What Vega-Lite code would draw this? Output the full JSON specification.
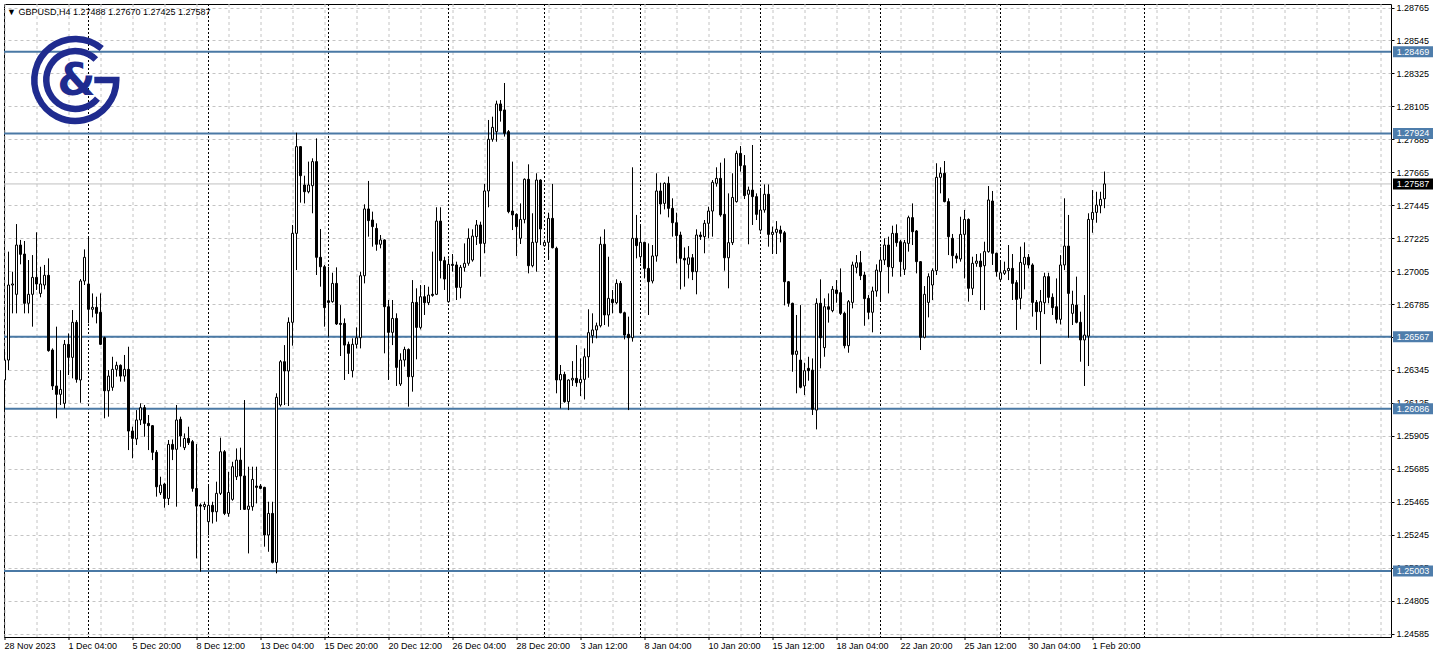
{
  "$schema": "https://vega.github.io/schema/vega-lite/v6.json",
  "width": 1387,
  "height": 633,
  "autosize": "none",
  "padding": {"left": 4, "top": 4, "right": 47, "bottom": 21},
  "background": "white",
  "title": {"text": "▼ GBPUSD,H4  1.27488 1.27670 1.27425 1.27587", "anchor": "start", "frame": "group", "offset": -13, "dx": 3, "font": "Liberation Sans", "fontSize": 9, "fontWeight": "normal", "color": "black"},
  "config": {
    "view": {"stroke": "black", "strokeWidth": 1},
    "axis": {"labelOverlap": false, "labelSeparation": 0},
    "scale": {"continuousPadding": 0}
  },
  "datasets": {
    "bars": [
      {"k":0,"o":1.26278,"h":1.26467,"l":1.26077,"c":1.26411},
      {"k":1,"o":1.26411,"h":1.27135,"l":1.26344,"c":1.26912},
      {"k":2,"o":1.26912,"h":1.27001,"l":1.26723,"c":1.26919},
      {"k":3,"o":1.26850,"h":1.27319,"l":1.26723,"c":1.27179},
      {"k":4,"o":1.27179,"h":1.27213,"l":1.27050,"c":1.27117},
      {"k":5,"o":1.27119,"h":1.27206,"l":1.26723,"c":1.26790},
      {"k":6,"o":1.26790,"h":1.27079,"l":1.26723,"c":1.26850},
      {"k":7,"o":1.26850,"h":1.27112,"l":1.26634,"c":1.26963},
      {"k":8,"o":1.26963,"h":1.27264,"l":1.26879,"c":1.26919},
      {"k":9,"o":1.26856,"h":1.27034,"l":1.26830,"c":1.26919},
      {"k":10,"o":1.26912,"h":1.27046,"l":1.26883,"c":1.26977},
      {"k":11,"o":1.26977,"h":1.27090,"l":1.26467,"c":1.26474},
      {"k":12,"o":1.26478,"h":1.26489,"l":1.26211,"c":1.26238},
      {"k":13,"o":1.26238,"h":1.26634,"l":1.26022,"c":1.26182},
      {"k":14,"o":1.26182,"h":1.26344,"l":1.26111,"c":1.26215},
      {"k":15,"o":1.26122,"h":1.26545,"l":1.26088,"c":1.26516},
      {"k":16,"o":1.26516,"h":1.26589,"l":1.26311,"c":1.26429},
      {"k":17,"o":1.26429,"h":1.26745,"l":1.26289,"c":1.26663},
      {"k":18,"o":1.26663,"h":1.26678,"l":1.26260,"c":1.26282},
      {"k":19,"o":1.26278,"h":1.26952,"l":1.26126,"c":1.26939},
      {"k":20,"o":1.26939,"h":1.27150,"l":1.26912,"c":1.27097},
      {"k":21,"o":1.26919,"h":1.27235,"l":1.26656,"c":1.26750},
      {"k":22,"o":1.26750,"h":1.26856,"l":1.26696,"c":1.26763},
      {"k":23,"o":1.26763,"h":1.26834,"l":1.26656,"c":1.26723},
      {"k":24,"o":1.26730,"h":1.26856,"l":1.26511,"c":1.26516},
      {"k":25,"o":1.26560,"h":1.26567,"l":1.26022,"c":1.26206},
      {"k":26,"o":1.26206,"h":1.26344,"l":1.26033,"c":1.26304},
      {"k":27,"o":1.26229,"h":1.26433,"l":1.26206,"c":1.26349},
      {"k":28,"o":1.26349,"h":1.26400,"l":1.26300,"c":1.26376},
      {"k":29,"o":1.26376,"h":1.26382,"l":1.26267,"c":1.26304},
      {"k":30,"o":1.26304,"h":1.26445,"l":1.26267,"c":1.26349},
      {"k":31,"o":1.26349,"h":1.26500,"l":1.25810,"c":1.25937},
      {"k":32,"o":1.25937,"h":1.25966,"l":1.25755,"c":1.25888},
      {"k":33,"o":1.25884,"h":1.26077,"l":1.25844,"c":1.26011},
      {"k":34,"o":1.26011,"h":1.26122,"l":1.25977,"c":1.26093},
      {"k":35,"o":1.26093,"h":1.26111,"l":1.25899,"c":1.25988},
      {"k":36,"o":1.25988,"h":1.26044,"l":1.25810,"c":1.25973},
      {"k":37,"o":1.25973,"h":1.25977,"l":1.25743,"c":1.25795},
      {"k":38,"o":1.25795,"h":1.25810,"l":1.25499,"c":1.25565},
      {"k":39,"o":1.25525,"h":1.25632,"l":1.25510,"c":1.25576},
      {"k":40,"o":1.25583,"h":1.25592,"l":1.25425,"c":1.25487},
      {"k":41,"o":1.25487,"h":1.25877,"l":1.25443,"c":1.25848},
      {"k":42,"o":1.25848,"h":1.25881,"l":1.25743,"c":1.25815},
      {"k":43,"o":1.25815,"h":1.26111,"l":1.25432,"c":1.26011},
      {"k":44,"o":1.26015,"h":1.26033,"l":1.25832,"c":1.25904},
      {"k":45,"o":1.25826,"h":1.25921,"l":1.25810,"c":1.25888},
      {"k":46,"o":1.25888,"h":1.25966,"l":1.25844,"c":1.25859},
      {"k":47,"o":1.25866,"h":1.25877,"l":1.25532,"c":1.25554},
      {"k":48,"o":1.25554,"h":1.25850,"l":1.25087,"c":1.25436},
      {"k":49,"o":1.25443,"h":1.25454,"l":1.24998,"c":1.25436},
      {"k":50,"o":1.25432,"h":1.25465,"l":1.25410,"c":1.25447},
      {"k":51,"o":1.25332,"h":1.25577,"l":1.25243,"c":1.25441},
      {"k":52,"o":1.25441,"h":1.25465,"l":1.25320,"c":1.25398},
      {"k":53,"o":1.25398,"h":1.25599,"l":1.25332,"c":1.25521},
      {"k":54,"o":1.25521,"h":1.25893,"l":1.25510,"c":1.25799},
      {"k":55,"o":1.25799,"h":1.25810,"l":1.25376,"c":1.25387},
      {"k":56,"o":1.25387,"h":1.25665,"l":1.25365,"c":1.25527},
      {"k":57,"o":1.25481,"h":1.25732,"l":1.25472,"c":1.25699},
      {"k":58,"o":1.25632,"h":1.25821,"l":1.25610,"c":1.25743},
      {"k":59,"o":1.25743,"h":1.25826,"l":1.25410,"c":1.25637},
      {"k":60,"o":1.25637,"h":1.26144,"l":1.25410,"c":1.25414},
      {"k":61,"o":1.25414,"h":1.25699,"l":1.25120,"c":1.25436},
      {"k":62,"o":1.25432,"h":1.25699,"l":1.25405,"c":1.25614},
      {"k":63,"o":1.25570,"h":1.25699,"l":1.25454,"c":1.25561},
      {"k":64,"o":1.25570,"h":1.25583,"l":1.25548,"c":1.25554},
      {"k":65,"o":1.25561,"h":1.25565,"l":1.25165,"c":1.25243},
      {"k":66,"o":1.25243,"h":1.25465,"l":1.25131,"c":1.25387},
      {"k":67,"o":1.25387,"h":1.25465,"l":1.25053,"c":1.25060},
      {"k":68,"o":1.25060,"h":1.26189,"l":1.24987,"c":1.26162},
      {"k":69,"o":1.26111,"h":1.26411,"l":1.26100,"c":1.26400},
      {"k":70,"o":1.26400,"h":1.26511,"l":1.26111,"c":1.26338},
      {"k":71,"o":1.26338,"h":1.26696,"l":1.26104,"c":1.26663},
      {"k":72,"o":1.26663,"h":1.27313,"l":1.26507,"c":1.27257},
      {"k":73,"o":1.27257,"h":1.27929,"l":1.27012,"c":1.27836},
      {"k":74,"o":1.27836,"h":1.27840,"l":1.27462,"c":1.27642},
      {"k":75,"o":1.27580,"h":1.27642,"l":1.27457,"c":1.27535},
      {"k":76,"o":1.27535,"h":1.27736,"l":1.27524,"c":1.27580},
      {"k":77,"o":1.27575,"h":1.27758,"l":1.27391,"c":1.27736},
      {"k":78,"o":1.27736,"h":1.27891,"l":1.26979,"c":1.27097},
      {"k":79,"o":1.27097,"h":1.27286,"l":1.26901,"c":1.27034},
      {"k":80,"o":1.27034,"h":1.27046,"l":1.26634,"c":1.26761},
      {"k":81,"o":1.26807,"h":1.27034,"l":1.26567,"c":1.26796},
      {"k":82,"o":1.26801,"h":1.26994,"l":1.26794,"c":1.26923},
      {"k":83,"o":1.26923,"h":1.27030,"l":1.26645,"c":1.26652},
      {"k":84,"o":1.26656,"h":1.26778,"l":1.26438,"c":1.26649},
      {"k":85,"o":1.26656,"h":1.26689,"l":1.26278,"c":1.26511},
      {"k":86,"o":1.26516,"h":1.26534,"l":1.26318,"c":1.26456},
      {"k":87,"o":1.26340,"h":1.26556,"l":1.26295,"c":1.26516},
      {"k":88,"o":1.26516,"h":1.26629,"l":1.26489,"c":1.26560},
      {"k":89,"o":1.26560,"h":1.27001,"l":1.26489,"c":1.26974},
      {"k":90,"o":1.26974,"h":1.27451,"l":1.26923,"c":1.27420},
      {"k":91,"o":1.27420,"h":1.27607,"l":1.27235,"c":1.27342},
      {"k":92,"o":1.27346,"h":1.27402,"l":1.27168,"c":1.27302},
      {"k":93,"o":1.27290,"h":1.27324,"l":1.27141,"c":1.27184},
      {"k":94,"o":1.27184,"h":1.27246,"l":1.27157,"c":1.27213},
      {"k":95,"o":1.27213,"h":1.27217,"l":1.26456,"c":1.26767},
      {"k":96,"o":1.26767,"h":1.26812,"l":1.26278,"c":1.26596},
      {"k":97,"o":1.26596,"h":1.26812,"l":1.26511,"c":1.26689},
      {"k":98,"o":1.26689,"h":1.26723,"l":1.26238,"c":1.26362},
      {"k":99,"o":1.26251,"h":1.26456,"l":1.26238,"c":1.26411},
      {"k":100,"o":1.26411,"h":1.26500,"l":1.26367,"c":1.26482},
      {"k":101,"o":1.26482,"h":1.26489,"l":1.26100,"c":1.26300},
      {"k":102,"o":1.26300,"h":1.26945,"l":1.26200,"c":1.26796},
      {"k":103,"o":1.26796,"h":1.26890,"l":1.26416,"c":1.26629},
      {"k":104,"o":1.26629,"h":1.26912,"l":1.26616,"c":1.26834},
      {"k":105,"o":1.26834,"h":1.26912,"l":1.26712,"c":1.26794},
      {"k":106,"o":1.26794,"h":1.26901,"l":1.26778,"c":1.26845},
      {"k":107,"o":1.26850,"h":1.27135,"l":1.26834,"c":1.26843},
      {"k":108,"o":1.26850,"h":1.27431,"l":1.26845,"c":1.27339},
      {"k":109,"o":1.27339,"h":1.27431,"l":1.26956,"c":1.27075},
      {"k":110,"o":1.27075,"h":1.27101,"l":1.26879,"c":1.26952},
      {"k":111,"o":1.26801,"h":1.27090,"l":1.26794,"c":1.27050},
      {"k":112,"o":1.27050,"h":1.27119,"l":1.27001,"c":1.27043},
      {"k":113,"o":1.27046,"h":1.27068,"l":1.26812,"c":1.26896},
      {"k":114,"o":1.26896,"h":1.27046,"l":1.26823,"c":1.27030},
      {"k":115,"o":1.27030,"h":1.27190,"l":1.27001,"c":1.27057},
      {"k":116,"o":1.27057,"h":1.27290,"l":1.27041,"c":1.27224},
      {"k":117,"o":1.27079,"h":1.27284,"l":1.27068,"c":1.27239},
      {"k":118,"o":1.27235,"h":1.27346,"l":1.27179,"c":1.27313},
      {"k":119,"o":1.27313,"h":1.27335,"l":1.26968,"c":1.27190},
      {"k":120,"o":1.27190,"h":1.27587,"l":1.27124,"c":1.27540},
      {"k":121,"o":1.27540,"h":1.28014,"l":1.27431,"c":1.27885},
      {"k":122,"o":1.27885,"h":1.28036,"l":1.27869,"c":1.27965},
      {"k":123,"o":1.27936,"h":1.28143,"l":1.27869,"c":1.28121},
      {"k":124,"o":1.28121,"h":1.28147,"l":1.28003,"c":1.28076},
      {"k":125,"o":1.28081,"h":1.28261,"l":1.27903,"c":1.27925},
      {"k":126,"o":1.27936,"h":1.27947,"l":1.27391,"c":1.27402},
      {"k":127,"o":1.27406,"h":1.27736,"l":1.27279,"c":1.27380},
      {"k":128,"o":1.27384,"h":1.27391,"l":1.27106,"c":1.27302},
      {"k":129,"o":1.27224,"h":1.27457,"l":1.27186,"c":1.27350},
      {"k":130,"o":1.27350,"h":1.27624,"l":1.27324,"c":1.27618},
      {"k":131,"o":1.27618,"h":1.27718,"l":1.26990,"c":1.27041},
      {"k":132,"o":1.27041,"h":1.27391,"l":1.27030,"c":1.27197},
      {"k":133,"o":1.27197,"h":1.27658,"l":1.27001,"c":1.27613},
      {"k":134,"o":1.27613,"h":1.27618,"l":1.27179,"c":1.27286},
      {"k":135,"o":1.27175,"h":1.27213,"l":1.27168,"c":1.27197},
      {"k":136,"o":1.27197,"h":1.27395,"l":1.27079,"c":1.27357},
      {"k":137,"o":1.27357,"h":1.27587,"l":1.27157,"c":1.27161},
      {"k":138,"o":1.27157,"h":1.27168,"l":1.26189,"c":1.26278},
      {"k":139,"o":1.26278,"h":1.26378,"l":1.26088,"c":1.26315},
      {"k":140,"o":1.26315,"h":1.26333,"l":1.26126,"c":1.26133},
      {"k":141,"o":1.26133,"h":1.26282,"l":1.26077,"c":1.26278},
      {"k":142,"o":1.26278,"h":1.26404,"l":1.26238,"c":1.26289},
      {"k":143,"o":1.26289,"h":1.26511,"l":1.26233,"c":1.26260},
      {"k":144,"o":1.26260,"h":1.26422,"l":1.26171,"c":1.26282},
      {"k":145,"o":1.26282,"h":1.26489,"l":1.26148,"c":1.26433},
      {"k":146,"o":1.26433,"h":1.26750,"l":1.26293,"c":1.26594},
      {"k":147,"o":1.26574,"h":1.26723,"l":1.26523,"c":1.26612},
      {"k":148,"o":1.26612,"h":1.26661,"l":1.26556,"c":1.26640},
      {"k":149,"o":1.26640,"h":1.27235,"l":1.26629,"c":1.27184},
      {"k":150,"o":1.27184,"h":1.27284,"l":1.26645,"c":1.26712},
      {"k":151,"o":1.26712,"h":1.27101,"l":1.26634,"c":1.26823},
      {"k":152,"o":1.26816,"h":1.26879,"l":1.26723,"c":1.26794},
      {"k":153,"o":1.26794,"h":1.26950,"l":1.26785,"c":1.26923},
      {"k":154,"o":1.26923,"h":1.26939,"l":1.26723,"c":1.26727},
      {"k":155,"o":1.26727,"h":1.26734,"l":1.26549,"c":1.26578},
      {"k":156,"o":1.26583,"h":1.26701,"l":1.26077,"c":1.26560},
      {"k":157,"o":1.26560,"h":1.27698,"l":1.26534,"c":1.27224},
      {"k":158,"o":1.27224,"h":1.27380,"l":1.27090,"c":1.27175},
      {"k":159,"o":1.27101,"h":1.27317,"l":1.27057,"c":1.27197},
      {"k":160,"o":1.27197,"h":1.27201,"l":1.26956,"c":1.27023},
      {"k":161,"o":1.27023,"h":1.27190,"l":1.26712,"c":1.26934},
      {"k":162,"o":1.26939,"h":1.27179,"l":1.26923,"c":1.27106},
      {"k":163,"o":1.27106,"h":1.27658,"l":1.27068,"c":1.27540},
      {"k":164,"o":1.27540,"h":1.27595,"l":1.27384,"c":1.27453},
      {"k":165,"o":1.27457,"h":1.27598,"l":1.27417,"c":1.27591},
      {"k":166,"o":1.27591,"h":1.27636,"l":1.27364,"c":1.27424},
      {"k":167,"o":1.27424,"h":1.27491,"l":1.27235,"c":1.27328},
      {"k":168,"o":1.27328,"h":1.27395,"l":1.27057,"c":1.27242},
      {"k":169,"o":1.27246,"h":1.27268,"l":1.26883,"c":1.27090},
      {"k":170,"o":1.27090,"h":1.27163,"l":1.26901,"c":1.27079},
      {"k":171,"o":1.27050,"h":1.27172,"l":1.26956,"c":1.27094},
      {"k":172,"o":1.27094,"h":1.27119,"l":1.26945,"c":1.27001},
      {"k":173,"o":1.27001,"h":1.27284,"l":1.26850,"c":1.27246},
      {"k":174,"o":1.27246,"h":1.27268,"l":1.27213,"c":1.27235},
      {"k":175,"o":1.27235,"h":1.27346,"l":1.27124,"c":1.27324},
      {"k":176,"o":1.27324,"h":1.27435,"l":1.27224,"c":1.27406},
      {"k":177,"o":1.27406,"h":1.27613,"l":1.27235,"c":1.27598},
      {"k":178,"o":1.27591,"h":1.27698,"l":1.27569,"c":1.27624},
      {"k":179,"o":1.27624,"h":1.27729,"l":1.27368,"c":1.27380},
      {"k":180,"o":1.27384,"h":1.27758,"l":1.27008,"c":1.27094},
      {"k":181,"o":1.27094,"h":1.27524,"l":1.26890,"c":1.27195},
      {"k":182,"o":1.27195,"h":1.27658,"l":1.27179,"c":1.27497},
      {"k":183,"o":1.27469,"h":1.27809,"l":1.27462,"c":1.27791},
      {"k":184,"o":1.27791,"h":1.27840,"l":1.27669,"c":1.27709},
      {"k":185,"o":1.27709,"h":1.27780,"l":1.27486,"c":1.27509},
      {"k":186,"o":1.27518,"h":1.27569,"l":1.27184,"c":1.27546},
      {"k":187,"o":1.27546,"h":1.27847,"l":1.27313,"c":1.27502},
      {"k":188,"o":1.27502,"h":1.27524,"l":1.27346,"c":1.27384},
      {"k":189,"o":1.27279,"h":1.27546,"l":1.27268,"c":1.27413},
      {"k":190,"o":1.27413,"h":1.27584,"l":1.27395,"c":1.27518},
      {"k":191,"o":1.27518,"h":1.27584,"l":1.27168,"c":1.27250},
      {"k":192,"o":1.27250,"h":1.27302,"l":1.27119,"c":1.27264},
      {"k":193,"o":1.27264,"h":1.27339,"l":1.27119,"c":1.27284},
      {"k":194,"o":1.27279,"h":1.27308,"l":1.27197,"c":1.27257},
      {"k":195,"o":1.27261,"h":1.27273,"l":1.26776,"c":1.26934},
      {"k":196,"o":1.26934,"h":1.26939,"l":1.26767,"c":1.26790},
      {"k":197,"o":1.26790,"h":1.26794,"l":1.26333,"c":1.26449},
      {"k":198,"o":1.26449,"h":1.26712,"l":1.26189,"c":1.26471},
      {"k":199,"o":1.26411,"h":1.26778,"l":1.26222,"c":1.26229},
      {"k":200,"o":1.26238,"h":1.26393,"l":1.26177,"c":1.26340},
      {"k":201,"o":1.26356,"h":1.26433,"l":1.26273,"c":1.26340},
      {"k":202,"o":1.26344,"h":1.26422,"l":1.26044,"c":1.26082},
      {"k":203,"o":1.26077,"h":1.26823,"l":1.25948,"c":1.26790},
      {"k":204,"o":1.26790,"h":1.26950,"l":1.26356,"c":1.26560},
      {"k":205,"o":1.26494,"h":1.26823,"l":1.26433,"c":1.26767},
      {"k":206,"o":1.26767,"h":1.26856,"l":1.26661,"c":1.26750},
      {"k":207,"o":1.26741,"h":1.26905,"l":1.26730,"c":1.26883},
      {"k":208,"o":1.26879,"h":1.26945,"l":1.26794,"c":1.26856},
      {"k":209,"o":1.26861,"h":1.27023,"l":1.26712,"c":1.26723},
      {"k":210,"o":1.26723,"h":1.26734,"l":1.26489,"c":1.26507},
      {"k":211,"o":1.26507,"h":1.26812,"l":1.26460,"c":1.26801},
      {"k":212,"o":1.26796,"h":1.27068,"l":1.26756,"c":1.27046},
      {"k":213,"o":1.27030,"h":1.27112,"l":1.26990,"c":1.27061},
      {"k":214,"o":1.27061,"h":1.27139,"l":1.26945,"c":1.26974},
      {"k":215,"o":1.26979,"h":1.27001,"l":1.26640,"c":1.26821},
      {"k":216,"o":1.26823,"h":1.26845,"l":1.26683,"c":1.26730},
      {"k":217,"o":1.26730,"h":1.26901,"l":1.26596,"c":1.26872},
      {"k":218,"o":1.26872,"h":1.27050,"l":1.26834,"c":1.27012},
      {"k":219,"o":1.27001,"h":1.27168,"l":1.26807,"c":1.27079},
      {"k":220,"o":1.27079,"h":1.27224,"l":1.27046,"c":1.27179},
      {"k":221,"o":1.27179,"h":1.27235,"l":1.26856,"c":1.27034},
      {"k":222,"o":1.27028,"h":1.27308,"l":1.26968,"c":1.27257},
      {"k":223,"o":1.27257,"h":1.27317,"l":1.27168,"c":1.27195},
      {"k":224,"o":1.27201,"h":1.27213,"l":1.26968,"c":1.27068},
      {"k":225,"o":1.27017,"h":1.27213,"l":1.26979,"c":1.27195},
      {"k":226,"o":1.27190,"h":1.27375,"l":1.27135,"c":1.27362},
      {"k":227,"o":1.27362,"h":1.27457,"l":1.27179,"c":1.27268},
      {"k":228,"o":1.27273,"h":1.27279,"l":1.26990,"c":1.27068},
      {"k":229,"o":1.27068,"h":1.27072,"l":1.26478,"c":1.26563},
      {"k":230,"o":1.26563,"h":1.26905,"l":1.26556,"c":1.26850},
      {"k":231,"o":1.26796,"h":1.26990,"l":1.26696,"c":1.26968},
      {"k":232,"o":1.26912,"h":1.27023,"l":1.26812,"c":1.27008},
      {"k":233,"o":1.27008,"h":1.27725,"l":1.26979,"c":1.27631},
      {"k":234,"o":1.27631,"h":1.27698,"l":1.27524,"c":1.27658},
      {"k":235,"o":1.27658,"h":1.27740,"l":1.27464,"c":1.27469},
      {"k":236,"o":1.27469,"h":1.27491,"l":1.27112,"c":1.27235},
      {"k":237,"o":1.27224,"h":1.27253,"l":1.27023,"c":1.27108},
      {"k":238,"o":1.27106,"h":1.27124,"l":1.27057,"c":1.27090},
      {"k":239,"o":1.27086,"h":1.27368,"l":1.27068,"c":1.27250},
      {"k":240,"o":1.27250,"h":1.27413,"l":1.26956,"c":1.27350},
      {"k":241,"o":1.27350,"h":1.27357,"l":1.26801,"c":1.26890},
      {"k":242,"o":1.26890,"h":1.27101,"l":1.26845,"c":1.27057},
      {"k":243,"o":1.27057,"h":1.27119,"l":1.27034,"c":1.27072},
      {"k":244,"o":1.27072,"h":1.27124,"l":1.26745,"c":1.27034},
      {"k":245,"o":1.27041,"h":1.27201,"l":1.26745,"c":1.27135},
      {"k":246,"o":1.27135,"h":1.27573,"l":1.27128,"c":1.27480},
      {"k":247,"o":1.27473,"h":1.27540,"l":1.27046,"c":1.27124},
      {"k":248,"o":1.27124,"h":1.27128,"l":1.26968,"c":1.27001},
      {"k":249,"o":1.26950,"h":1.27068,"l":1.26945,"c":1.26994},
      {"k":250,"o":1.26990,"h":1.27068,"l":1.26979,"c":1.27008},
      {"k":251,"o":1.27008,"h":1.27179,"l":1.26945,"c":1.27023},
      {"k":252,"o":1.27023,"h":1.27119,"l":1.26812,"c":1.26923},
      {"k":253,"o":1.26928,"h":1.26945,"l":1.26612,"c":1.26816},
      {"k":254,"o":1.26823,"h":1.27168,"l":1.26750,"c":1.27063},
      {"k":255,"o":1.27050,"h":1.27197,"l":1.26883,"c":1.27097},
      {"k":256,"o":1.27097,"h":1.27119,"l":1.27023,"c":1.27046},
      {"k":257,"o":1.27046,"h":1.27057,"l":1.26701,"c":1.26796},
      {"k":258,"o":1.26796,"h":1.26812,"l":1.26612,"c":1.26734},
      {"k":259,"o":1.26734,"h":1.26879,"l":1.26384,"c":1.26801},
      {"k":260,"o":1.26794,"h":1.26994,"l":1.26718,"c":1.26968},
      {"k":261,"o":1.26968,"h":1.26994,"l":1.26790,"c":1.26830},
      {"k":262,"o":1.26830,"h":1.26856,"l":1.26712,"c":1.26761},
      {"k":263,"o":1.26767,"h":1.26956,"l":1.26656,"c":1.26683},
      {"k":264,"o":1.26683,"h":1.27112,"l":1.26649,"c":1.27046},
      {"k":265,"o":1.27046,"h":1.27491,"l":1.27012,"c":1.27172},
      {"k":266,"o":1.27172,"h":1.27380,"l":1.26560,"c":1.26856},
      {"k":267,"o":1.26723,"h":1.26874,"l":1.26645,"c":1.26783},
      {"k":268,"o":1.26778,"h":1.26968,"l":1.26656,"c":1.26663},
      {"k":269,"o":1.26663,"h":1.26734,"l":1.26400,"c":1.26545},
      {"k":270,"o":1.26545,"h":1.26845,"l":1.26238,"c":1.26578},
      {"k":271,"o":1.26571,"h":1.27391,"l":1.26371,"c":1.27350},
      {"k":272,"o":1.27350,"h":1.27546,"l":1.27261,"c":1.27397},
      {"k":273,"o":1.27397,"h":1.27535,"l":1.27328,"c":1.27446},
      {"k":274,"o":1.27442,"h":1.27535,"l":1.27391,"c":1.27484},
      {"k":275,"o":1.27488,"h":1.27670,"l":1.27425,"c":1.27587}
    ],
    "levels": [
      {"p": 1.28469}, {"p": 1.27924}, {"p": 1.26567}, {"p": 1.26086}, {"p": 1.25003}
    ],
    "current": [{"p": 1.27587}],
    "seps": [
      {"k": 21}, {"k": 51}, {"k": 81}, {"k": 111}, {"k": 135}, {"k": 159}, {"k": 189}, {"k": 219}, {"k": 249}, {"k": 285}
    ]
  },
  "layer": [
    {
      "data": {"name": "seps"},
      "mark": {"type": "rule", "color": "black", "strokeWidth": 1, "strokeDash": [2, 2]},
      "encoding": {
        "x": {"field": "k", "type": "quantitative",
              "scale": {"domain": [-0.125, 346.625], "nice": false, "zero": false, "padding": 0},
              "axis": {
                "values": [0,8,16,24,32,40,48,56,64,72,80,88,96,104,112,120,128,136,144,152,160,168,176,184,192,200,208,216,224,232,240,248,256,264,272,280,288,296,304,312,320,328,336,344],
                "tickCount": 200,
                "labelExpr": "datum.value <= 272 && datum.value % 16 === 0 ? ['28 Nov 2023','1 Dec 04:00','5 Dec 20:00','8 Dec 12:00','13 Dec 04:00','15 Dec 20:00','20 Dec 12:00','26 Dec 04:00','28 Dec 20:00','3 Jan 12:00','8 Jan 04:00','10 Jan 20:00','15 Jan 12:00','18 Jan 04:00','22 Jan 20:00','25 Jan 12:00','30 Jan 04:00','1 Feb 20:00'][datum.value / 16] : ''",
                "title": null, "grid": true, "gridColor": "#c4c4c4", "gridDash": [3, 3], "gridWidth": 1,
                "domain": false, "ticks": true, "tickSize": 3, "tickColor": "black",
                "tickOpacity": {"condition": {"test": "datum.value <= 272 && datum.value % 16 === 0", "value": 1}, "value": 0},
                "labelAlign": "left", "labelBaseline": "top", "labelPadding": 2,
                "labelFont": "Liberation Sans", "labelFontSize": 9, "labelColor": "black",
                "labelOverlap": false, "labelFlush": false, "translate": 0
              }}
      }
    },
    {
      "data": {"name": "current"},
      "mark": {"type": "rule", "color": "#c0c0c0", "strokeWidth": 1},
      "encoding": {
        "y": {"field": "p", "type": "quantitative",
              "scale": {"domain": [1.245619, 1.287884], "nice": false, "zero": false, "padding": 0},
              "axis": {
                "orient": "right",
                "values": [1.24585,1.24805,1.25025,1.25245,1.25465,1.25685,1.25905,1.26125,1.26345,1.26565,1.26785,1.27005,1.27225,1.27445,1.27665,1.27885,1.28105,1.28325,1.28545,1.28765],
                "tickCount": 200,
                "format": ".5f", "title": null,
                "grid": true, "gridColor": "#c4c4c4", "gridDash": [3, 3], "gridWidth": 1,
                "domain": false, "ticks": true, "tickSize": 3, "tickColor": "black",
                "labelPadding": 2, "labelFont": "Liberation Sans", "labelFontSize": 9, "labelColor": "black",
                "labelOverlap": false, "labelFlush": false, "labelSeparation": 0
              }}
      }
    },
    {
      "data": {"name": "levels"},
      "mark": {"type": "rule", "color": "#4a79a5", "strokeWidth": 2},
      "encoding": {
        "y": {"field": "p", "type": "quantitative", "scale": {"domain": [1.245619, 1.287884], "nice": false, "zero": false, "padding": 0}}
      }
    },
    {
      "data": {"name": "bars"},
      "mark": {"type": "rule", "color": "black", "strokeWidth": 1, "clip": true},
      "encoding": {
        "x": {"field": "k", "type": "quantitative", "scale": {"domain": [-0.125, 346.625], "nice": false, "zero": false, "padding": 0}},
        "y": {"field": "l", "type": "quantitative", "scale": {"domain": [1.245619, 1.287884], "nice": false, "zero": false, "padding": 0}},
        "y2": {"field": "h"}
      }
    },
    {
      "data": {"name": "bars"},
      "mark": {"type": "bar", "width": 2, "stroke": "black", "strokeWidth": 1, "clip": true},
      "encoding": {
        "x": {"field": "k", "type": "quantitative", "scale": {"domain": [-0.125, 346.625], "nice": false, "zero": false, "padding": 0}},
        "y": {"field": "o", "type": "quantitative", "scale": {"domain": [1.245619, 1.287884], "nice": false, "zero": false, "padding": 0}},
        "y2": {"field": "c"},
        "fill": {"condition": {"test": "datum.c >= datum.o", "value": "white"}, "value": "black"}
      }
    },
    {
      "data": {"name": "levels"},
      "mark": {"type": "point", "shape": "M-20,-5.5H20V5.5H-20Z", "size": 4, "filled": true, "opacity": 1, "color": "#4e7dab", "strokeWidth": 0},
      "encoding": {
        "x": {"datum": 352.125, "type": "quantitative", "scale": {"domain": [-0.125, 346.625], "nice": false, "zero": false, "padding": 0}},
        "y": {"field": "p", "type": "quantitative", "scale": {"domain": [1.245619, 1.287884], "nice": false, "zero": false, "padding": 0}}
      }
    },
    {
      "data": {"name": "levels"},
      "mark": {"type": "text", "align": "center", "baseline": "middle", "color": "white", "font": "Liberation Sans", "fontSize": 9},
      "encoding": {
        "x": {"datum": 352.125, "type": "quantitative", "scale": {"domain": [-0.125, 346.625], "nice": false, "zero": false, "padding": 0}},
        "y": {"field": "p", "type": "quantitative", "scale": {"domain": [1.245619, 1.287884], "nice": false, "zero": false, "padding": 0}},
        "text": {"field": "p", "type": "quantitative", "format": ".5f"}
      }
    },
    {
      "data": {"name": "current"},
      "mark": {"type": "point", "shape": "M-20,-5.5H20V5.5H-20Z", "size": 4, "filled": true, "opacity": 1, "color": "black", "strokeWidth": 0},
      "encoding": {
        "x": {"datum": 352.125, "type": "quantitative", "scale": {"domain": [-0.125, 346.625], "nice": false, "zero": false, "padding": 0}},
        "y": {"field": "p", "type": "quantitative", "scale": {"domain": [1.245619, 1.287884], "nice": false, "zero": false, "padding": 0}}
      }
    },
    {
      "data": {"name": "current"},
      "mark": {"type": "text", "align": "center", "baseline": "middle", "color": "white", "font": "Liberation Sans", "fontSize": 9},
      "encoding": {
        "x": {"datum": 352.125, "type": "quantitative", "scale": {"domain": [-0.125, 346.625], "nice": false, "zero": false, "padding": 0}},
        "y": {"field": "p", "type": "quantitative", "scale": {"domain": [1.245619, 1.287884], "nice": false, "zero": false, "padding": 0}},
        "text": {"field": "p", "type": "quantitative", "format": ".5f"}
      }
    },
    {
      "data": {"values": [{"logo": "C&G"}]},
      "mark": {"type": "point", "shape": "M26.4,-31.4A41,41 0 1 0 41,0H19M20.5,-20.5A29,29 0 1 0 22.2,18.6", "size": 4, "filled": false, "opacity": 1, "color": "#1f2b8f", "strokeWidth": 6.5},
      "encoding": {
        "x": {"datum": 17.7, "type": "quantitative", "scale": {"domain": [-0.125, 346.625], "nice": false, "zero": false, "padding": 0}},
        "y": {"datum": 1.28281, "type": "quantitative", "scale": {"domain": [1.245619, 1.287884], "nice": false, "zero": false, "padding": 0}}
      }
    },
    {
      "data": {"values": [{"logo": "C&G"}]},
      "mark": {"type": "text", "text": "&", "font": "DejaVu Sans", "fontWeight": "bold", "fontSize": 44, "color": "#1f2b8f", "align": "center", "baseline": "middle", "dy": 2},
      "encoding": {
        "x": {"datum": 18.0, "type": "quantitative", "scale": {"domain": [-0.125, 346.625], "nice": false, "zero": false, "padding": 0}},
        "y": {"datum": 1.28281, "type": "quantitative", "scale": {"domain": [1.245619, 1.287884], "nice": false, "zero": false, "padding": 0}}
      }
    }
  ]
}
